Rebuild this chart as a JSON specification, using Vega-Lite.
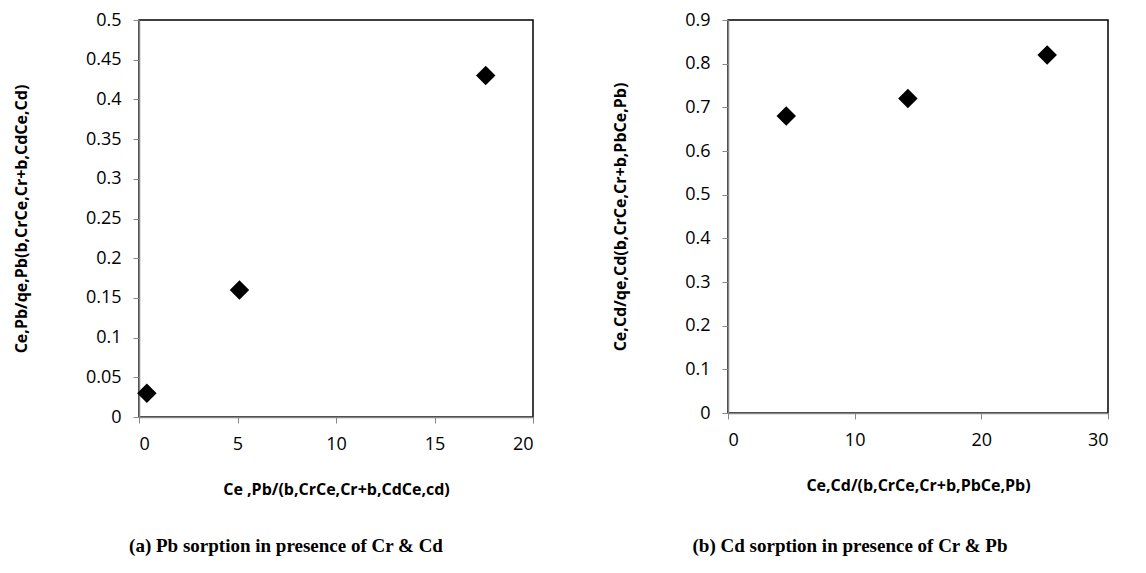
{
  "$schema": "https://vega.github.io/schema/vega-lite/v6.json",
  "background": "white",
  "padding": {"left": 12, "top": 10, "right": 5, "bottom": 5},
  "spacing": 76,
  "config": {
    "view": {"stroke": "black", "strokeWidth": 1.5},
    "axis": {
      "grid": false,
      "domainColor": "#868686",
      "domainWidth": 1.5,
      "tickColor": "#868686",
      "tickSize": 6,
      "labelFont": "Open Sans",
      "labelFontSize": 18,
      "labelColor": "black",
      "titleFont": "Open Sans",
      "titleFontWeight": "bold",
      "titleFontSize": 16,
      "titleColor": "black"
    },
    "title": {"font": "Liberation Serif", "fontSize": 19, "fontWeight": "bold", "color": "black"}
  },
  "datasets": {
    "pb": [
      {"x": 0.4, "y": 0.03},
      {"x": 5.1, "y": 0.16},
      {"x": 17.6, "y": 0.43}
    ],
    "cd": [
      {"x": 4.6, "y": 0.68},
      {"x": 14.2, "y": 0.72},
      {"x": 25.2, "y": 0.82}
    ]
  },
  "hconcat": [
    {
      "width": 394,
      "height": 397,
      "title": {"text": "(a) Pb sorption in presence of Cr & Cd", "orient": "bottom", "offset": 40, "dx": -50},
      "data": {"name": "pb"},
      "mark": {"type": "point", "shape": "diamond", "filled": true, "color": "black", "opacity": 1, "size": 380},
      "encoding": {
        "x": {"field": "x", "type": "quantitative", "scale": {"domain": [0, 20], "nice": false},
          "axis": {"values": [0, 5, 10, 15, 20], "format": "~r", "labelPadding": 12, "title": "Ce ,Pb/(b,CrCe,Cr+b,CdCe,cd)", "titlePadding": 28}},
        "y": {"field": "y", "type": "quantitative", "scale": {"domain": [0, 0.5], "nice": false},
          "axis": {"values": [0, 0.05, 0.1, 0.15, 0.2, 0.25, 0.3, 0.35, 0.4, 0.45, 0.5], "format": "~r", "labelPadding": 12, "title": "Ce,Pb/qe,Pb(b,CrCe,Cr+b,CdCe,Cd)", "titlePadding": 56}}
      }
    },
    {
      "width": 380,
      "height": 393,
      "title": {"text": "(b) Cd sorption in presence of Cr & Pb", "orient": "bottom", "offset": 44, "dx": -68},
      "data": {"name": "cd"},
      "mark": {"type": "point", "shape": "diamond", "filled": true, "color": "black", "opacity": 1, "size": 380},
      "encoding": {
        "x": {"field": "x", "type": "quantitative", "scale": {"domain": [0, 30], "nice": false},
          "axis": {"values": [0, 10, 20, 30], "format": "~r", "labelPadding": 12, "title": "Ce,Cd/(b,CrCe,Cr+b,PbCe,Pb)", "titlePadding": 28}},
        "y": {"field": "y", "type": "quantitative", "scale": {"domain": [0, 0.9], "nice": false},
          "axis": {"values": [0, 0.1, 0.2, 0.3, 0.4, 0.5, 0.6, 0.7, 0.8, 0.9], "format": "~r", "labelPadding": 12, "title": "Ce,Cd/qe,Cd(b,CrCe,Cr+b,PbCe,Pb)", "titlePadding": 56}}
      }
    }
  ]
}
